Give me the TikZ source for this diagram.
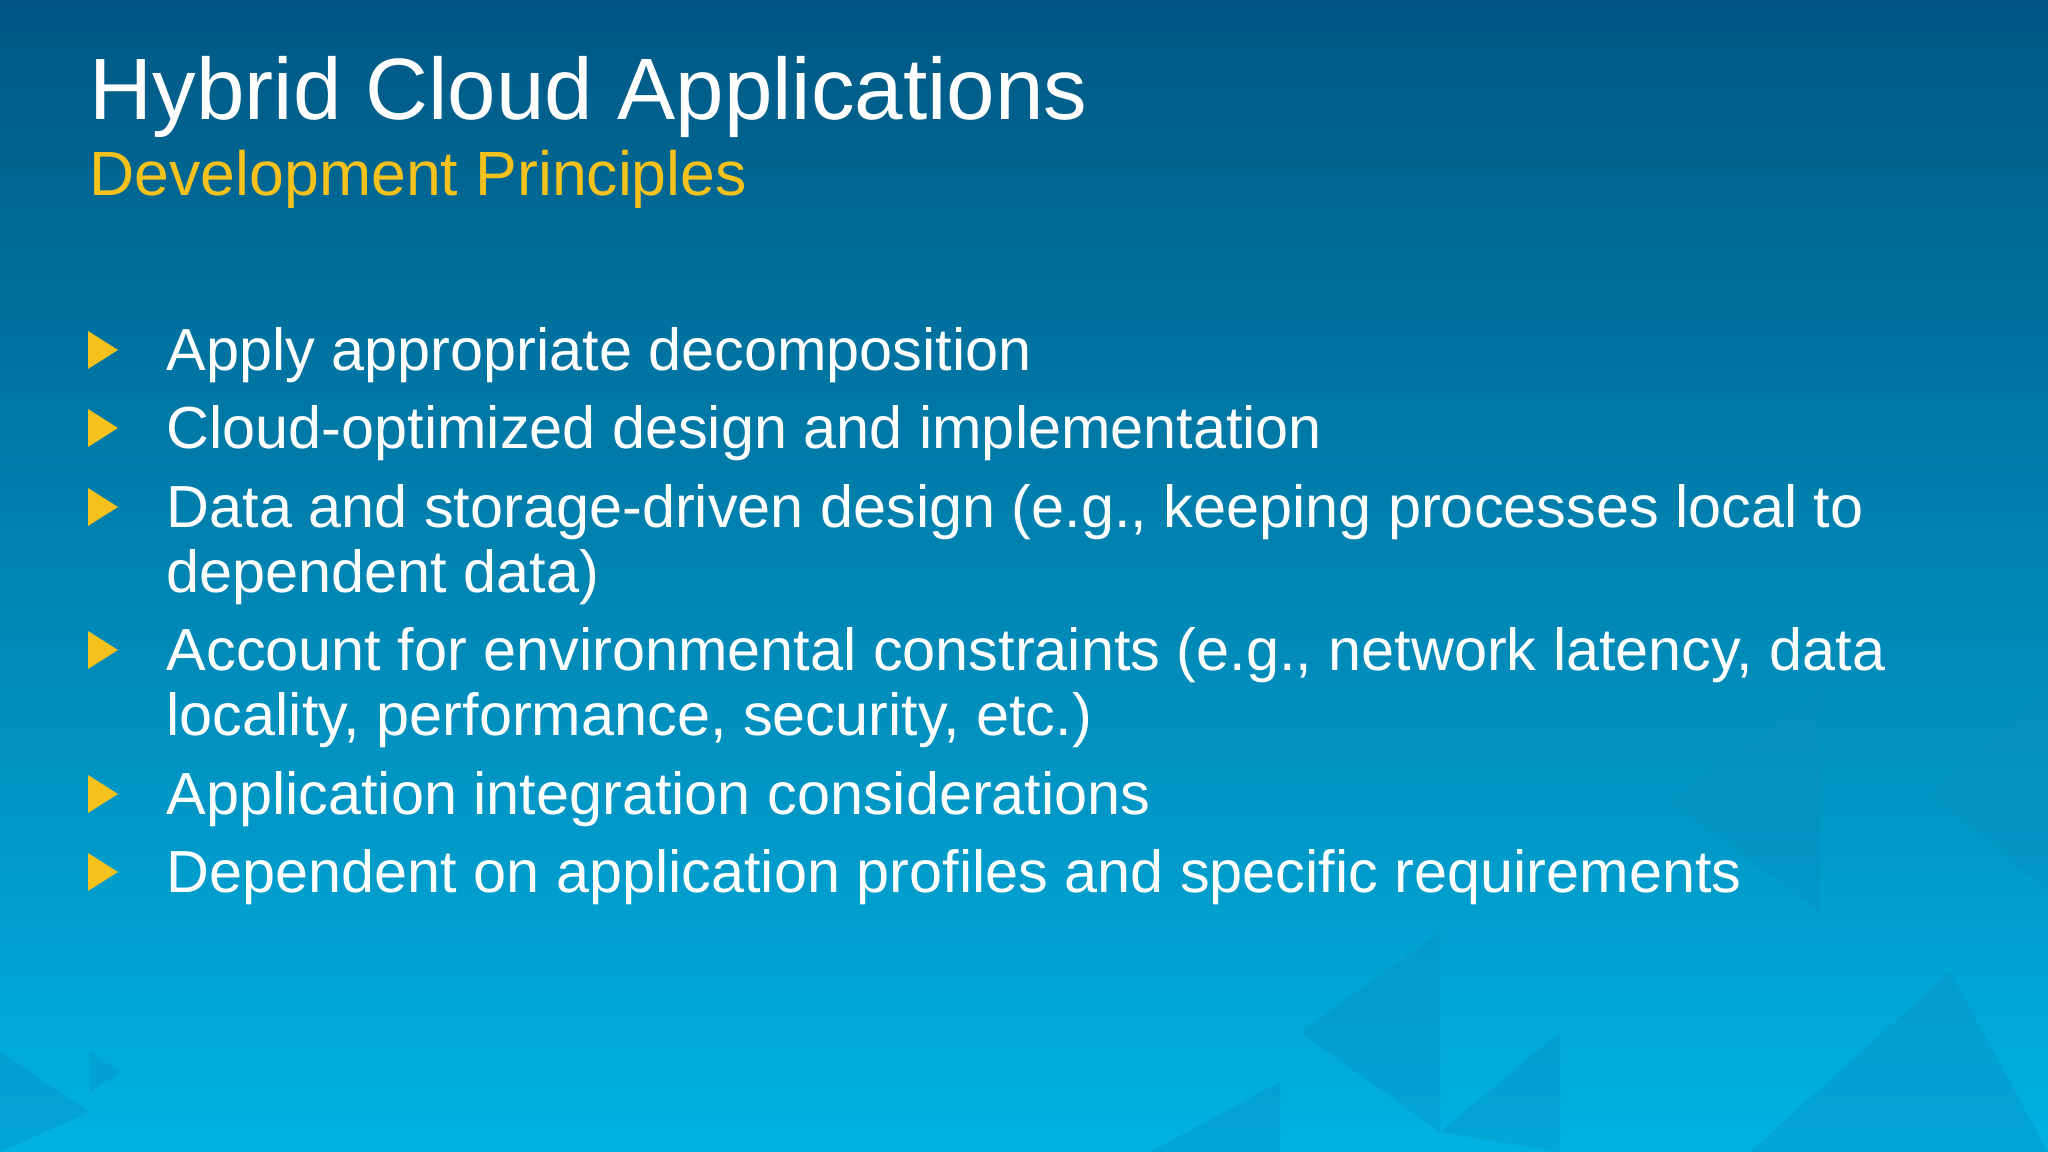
\documentclass[tikz,border=0pt]{standalone}
\usepackage{fontspec}
\setmainfont{Liberation Sans}
\definecolor{bgtop}{HTML}{005783}
\definecolor{bgbot}{HTML}{00B2E2}
\definecolor{gold}{HTML}{F5C11C}
\definecolor{tri}{HTML}{0A8FC0}
\begin{document}
\begin{tikzpicture}[x=1cm,y=1cm,
  title/.style={anchor=base west,inner sep=0pt,text=white,font=\fontsize{24.8}{28}\selectfont},
  subtitle/.style={anchor=base west,inner sep=0pt,text=gold,font=\fontsize{17.8}{20}\selectfont},
  item/.style={anchor=base west,inner sep=0pt,text=white,font=\fontsize{16.9}{19}\selectfont},
  bullet/.style={fill=gold}]
\shade[top color=bgtop,bottom color=bgbot] (0,0) rectangle (20.48,11.52);
\useasboundingbox (0,0) rectangle (20.48,11.52);
% decorative triangles
\begin{scope}[fill=tri,opacity=0.35]
\fill (16.7,3.5) -- (18.2,4.6) -- (18.2,2.4) -- cycle;
\fill (13.0,1.2) -- (14.4,2.2) -- (14.4,0.2) -- cycle;
\fill (14.4,0.2) -- (15.6,1.2) -- (15.6,0) -- cycle;
\fill (17.5,0) -- (19.5,1.8) -- (20.48,0) -- cycle;
\fill (11.5,0) -- (12.8,0.7) -- (12.8,0) -- cycle;
\fill (0,1.0) -- (0.9,0.4) -- (0,0) -- cycle;
\fill (0.9,1.0) -- (1.2,0.8) -- (0.9,0.6) -- cycle;
\fill (19.3,3.6) -- (20.48,4.6) -- (20.48,2.6) -- cycle;
\end{scope}
\node[title] (t) at (0.89,10.32) {Hybrid Cloud Applications};
\node[subtitle] (s) at (0.89,9.56) {Development Principles};
\foreach \y/\txt [count=\i] in {
  7.81/{Apply appropriate decomposition},
  7.03/{Cloud-optimized design and implementation},
  6.24/{Data and storage-driven design (e.g., keeping processes local to},
  4.81/{Account for environmental constraints (e.g., network latency, data},
  3.37/{Application integration considerations},
  2.59/{Dependent on application profiles and specific requirements}} {
  \node[item] (i\i) at (1.66,\y) {\txt};
  \fill[bullet] (0.88,\y+0.02) -- (0.88,\y+0.40) -- (1.18,\y+0.21) -- cycle;
}
\node[item] (i3b) at (1.66,5.59) {dependent data)};
\node[item] (i4b) at (1.66,4.16) {locality, performance, security, etc.)};
\end{tikzpicture}
\end{document}
